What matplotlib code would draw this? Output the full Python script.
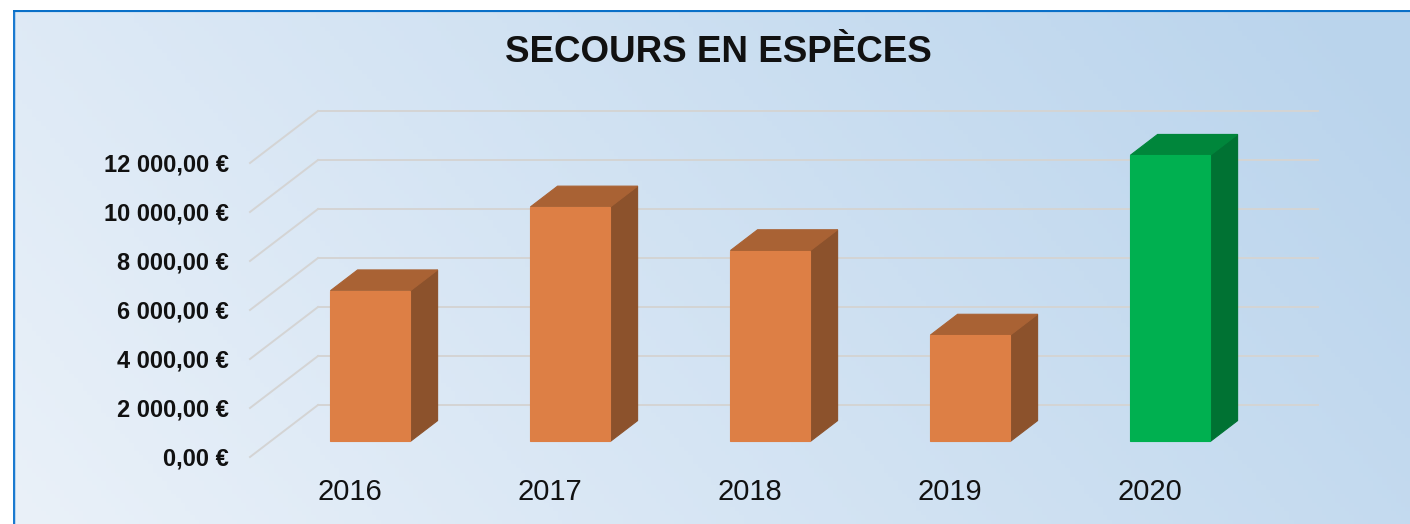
#!/usr/bin/env python3
"""Secours en especes - 3D-style column chart (Excel look)."""

import matplotlib
import numpy as np

matplotlib.use('Agg')
import matplotlib.pyplot as plt
from matplotlib.patches import Polygon

plt.rcParams['font.family'] = ['Liberation Sans', 'DejaVu Sans']

years = ["2016", "2017", "2018", "2019", "2020"]
amounts = [6150, 9570, 7790, 4340, 11680]
y_ticks = [0, 2000, 4000, 6000, 8000, 10000, 12000]
y_tick_labels = ["0,00 €", "2 000,00 €", "4 000,00 €", "6 000,00 €",
                 "8 000,00 €", "10 000,00 €", "12 000,00 €"]
title = "SECOURS EN ESPÈCES"

ORANGE = ("#dd7f45", "#a96234", "#8c522c")
GREEN = ("#00b050", "#00863b", "#007233")
bar_colors = [ORANGE, ORANGE, ORANGE, ORANGE, GREEN]

W, H = 1410, 524
PX_PER_CAT = 200.0        # pixels per category on the front edge
UNITS_PER_PX = 2000 / 49.0
X0_PX, Y0_PX = 350.0, 457.0   # pixel of category 0 / value 0 at the front
DEPTH_X = 68 / PX_PER_CAT     # full depth shift, category units
DEPTH_Y = 52 * UNITS_PER_PX   # full depth shift, value units
BAR_W = 0.4
BAR_F0, BAR_F1 = 0.3, 0.7     # bar front/back as fraction of depth


def shift(f):
    return f * DEPTH_X, f * DEPTH_Y


def main():
    fig = plt.figure(figsize=(W / 100, H / 100), dpi=100)
    fig.patch.set_facecolor("white")

    # gradient background of the chart area
    bg = fig.add_axes([13 / W, 0, 1 - 13 / W, 1 - 10 / H])
    gx, gy = np.meshgrid(np.linspace(0, 1, 300), np.linspace(0, 1, 120))
    t = np.clip(0.8 * gx + 0.25 * (1 - gy), 0, 1) / 1.05
    c0 = np.array([234, 241, 249]) / 255
    c1 = np.array([184, 211, 236]) / 255
    img = c0 + (c1 - c0) * t[..., None]
    bg.imshow(img, aspect="auto", extent=[0, 1, 0, 1], origin="upper")
    bg.set_xlim(0, 1)
    bg.set_ylim(0, 1)
    bg.axis("off")
    bg.plot([0, 0], [0, 1], color="#1a7ad0", lw=2.5, solid_capstyle="butt")
    bg.plot([0, 1], [1, 1], color="#0a70c8", lw=3, solid_capstyle="butt")

    ax = fig.add_axes([0, 0, 1, 1])
    ax.set_xlim(-X0_PX / PX_PER_CAT, (W - X0_PX) / PX_PER_CAT)
    ax.set_ylim((Y0_PX - H) * UNITS_PER_PX, Y0_PX * UNITS_PER_PX)
    ax.axis("off")

    # gridlines: side wall diagonals + back wall lines
    left, right = -0.5, len(years) - 0.5
    dx, dy = shift(1.0)
    for v, lab in zip(y_ticks, y_tick_labels):
        ax.plot([left, left + dx], [v, v + dy], color="#d4d4d4", lw=1.4, zorder=1)
        ax.plot([left + dx, right + dx], [v + dy, v + dy], color="#d4d4d4", lw=1.4, zorder=1)
        ax.text(left - 0.105, v - 80, lab, ha="right", va="center", fontsize=17,
                fontweight="bold", color="#111111")

    # 3D bars
    sx0, sy0 = shift(BAR_F0)
    ddx, ddy = shift(BAR_F1 - BAR_F0)
    for i, (v, (c_front, c_top, c_side)) in enumerate(zip(amounts, bar_colors)):
        xl = i - BAR_W / 2 + sx0
        xr = i + BAR_W / 2 + sx0
        yb, yt = sy0, v + sy0
        front = [(xl, yb), (xr, yb), (xr, yt), (xl, yt)]
        top = [(xl, yt), (xr, yt), (xr + ddx, yt + ddy), (xl + ddx, yt + ddy)]
        side = [(xr, yb), (xr + ddx, yb + ddy), (xr + ddx, yt + ddy), (xr, yt)]
        for pts, col in ((side, c_side), (top, c_top), (front, c_front)):
            ax.add_patch(Polygon(pts, closed=True, facecolor=col,
                                 edgecolor=col, lw=0.8, zorder=3))
        ax.text(i, (Y0_PX - 492) * UNITS_PER_PX, years[i], ha="center",
                va="center", fontsize=21, color="#111111")

    fig.text(718 / W, 1 - 52 / H, title, ha="center", va="center",
             fontsize=26.5, fontweight="bold", color="#111111")

    fig.savefig("out.png", dpi=100)


if __name__ == "__main__":
    main()
